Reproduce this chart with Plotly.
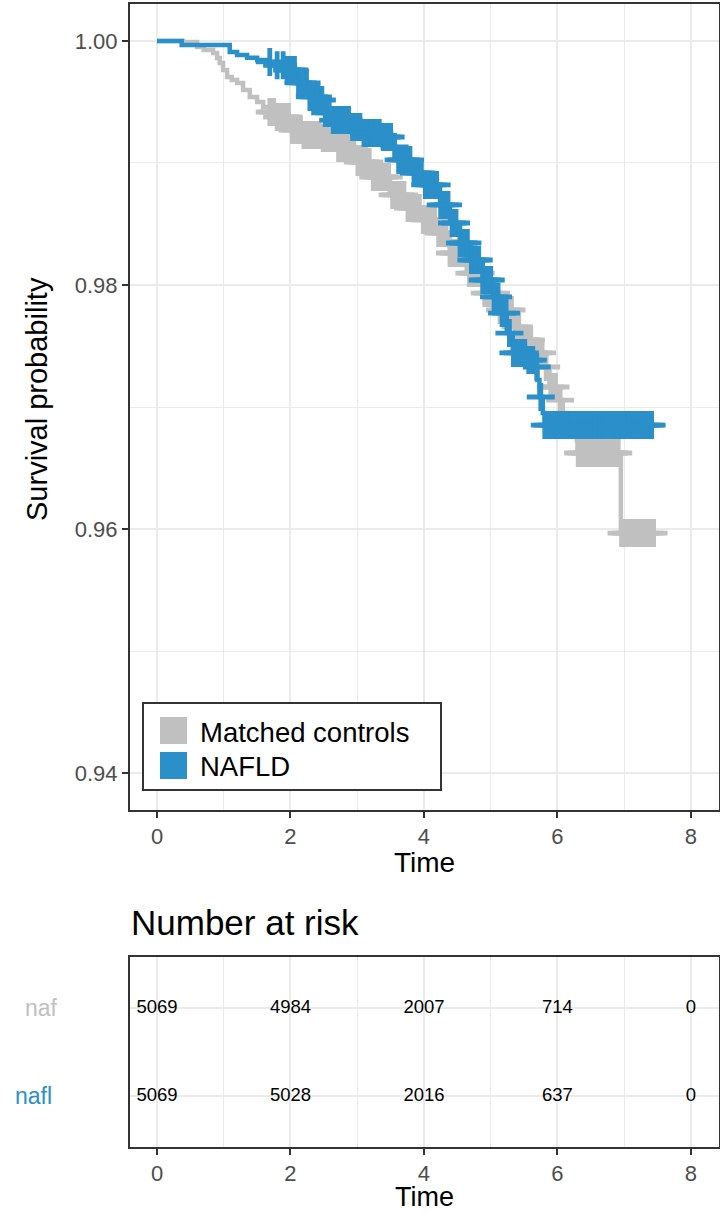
import numpy as np
import plotly.graph_objects as go

# ---------------- data ----------------
ctrl_time = [0.0, 0.39, 0.60, 0.70, 0.84, 0.90, 0.94, 0.99, 1.05, 1.12, 1.20, 1.29, 1.39, 1.50,
             1.59, 1.69, 1.80, 1.99, 2.19, 2.49, 2.69, 2.99, 3.23, 3.49, 3.74, 3.98, 4.19, 4.39,
             4.64, 4.88, 5.13, 5.33, 5.48, 5.63, 5.78, 5.88, 5.99, 6.08, 6.14, 6.29, 6.30, 6.95,
             7.44]
ctrl_surv = [1.0, 0.99992, 0.99951, 0.99926, 0.99902, 0.99861, 0.99820, 0.99762, 0.99705, 0.99680,
             0.99656, 0.99598, 0.99541, 0.99500, 0.99459, 0.99418, 0.99377, 0.99270, 0.99229,
             0.99205, 0.99123, 0.99008, 0.98885, 0.98738, 0.98631, 0.98533, 0.98426, 0.98262,
             0.98098, 0.97934, 0.97795, 0.97656, 0.97549, 0.97443, 0.97328, 0.97164, 0.97057,
             0.96951, 0.96811, 0.96729, 0.96623, 0.95967, 0.95967]

nafld_time = [0.0, 0.34, 0.37, 0.99, 1.09, 1.20, 1.35, 1.50, 1.69, 1.80, 1.95, 2.10, 2.29, 2.44,
              2.49, 2.59, 2.89, 3.08, 3.34, 3.53, 3.59, 3.83, 3.98, 4.24, 4.39, 4.54, 4.69, 4.88,
              5.03, 5.13, 5.24, 5.33, 5.54, 5.69, 5.70, 5.73, 5.78, 5.81, 7.41]
nafld_surv = [1.0, 1.0, 0.99967, 0.99967, 0.99910, 0.99885, 0.99862, 0.99844, 0.99828, 0.99800,
              0.99762, 0.99656, 0.99541, 0.99516, 0.99410, 0.99352, 0.99295, 0.99246, 0.99213,
              0.99131, 0.99025, 0.98918, 0.98820, 0.98656, 0.98508, 0.98344, 0.98205, 0.98041,
              0.97902, 0.97770, 0.97606, 0.97443, 0.97385, 0.97328, 0.97221, 0.97082, 0.96951,
              0.96852, 0.96852]

ctrl_censor = [1.69, 1.75, 1.80, 1.86, 1.92, 1.97, 2.03, 2.09, 2.15, 2.20, 2.26, 2.32, 2.38, 2.43,
               2.49, 2.55, 2.61, 2.66, 2.72, 2.78, 2.84, 2.89, 2.95, 3.01, 3.07, 3.12, 3.18, 3.24,
               3.30, 3.35, 3.41, 3.47, 3.53, 3.58, 3.64, 3.70, 3.76, 3.81, 3.87, 3.93, 3.99, 4.04,
               4.10, 4.16, 4.22, 4.27, 4.33, 4.39, 4.45, 4.50, 4.56, 4.62, 4.68, 4.73, 4.79, 4.85,
               4.91, 4.96, 5.02, 5.08, 5.14, 5.19, 5.25, 5.31, 5.37, 5.42, 5.48, 5.54, 5.60, 5.65,
               5.71, 5.77, 5.83, 5.90, 5.97, 6.04, 6.31, 6.37, 6.43, 6.49, 6.55, 6.61, 6.67, 6.73,
               6.79, 6.85, 6.91, 6.96, 7.02, 7.08, 7.14, 7.20, 7.26, 7.32, 7.38, 7.44]
nafld_censor = [1.69, 1.80, 1.89, 1.95, 2.01, 2.06, 2.12, 2.18, 2.24, 2.29, 2.35, 2.41, 2.47, 2.52,
                2.58, 2.64, 2.70, 2.75, 2.81, 2.87, 2.93, 2.98, 3.04, 3.10, 3.16, 3.21, 3.27, 3.33,
                3.39, 3.44, 3.50, 3.56, 3.62, 3.67, 3.73, 3.79, 3.85, 3.90, 3.96, 4.02, 4.08, 4.13,
                4.19, 4.25, 4.31, 4.36, 4.42, 4.48, 4.54, 4.59, 4.65, 4.71, 4.77, 4.82, 4.88, 4.94,
                5.00, 5.05, 5.11, 5.17, 5.23, 5.28, 5.34, 5.40, 5.46, 5.51, 5.57, 5.63, 5.69, 5.75,
                5.81, 5.86, 5.92, 5.98, 6.04, 6.10, 6.16, 6.21, 6.27, 6.33, 6.39, 6.45, 6.51, 6.56,
                6.62, 6.68, 6.74, 6.80, 6.86, 6.91, 6.97, 7.03, 7.09, 7.15, 7.21, 7.26, 7.32, 7.38,
                7.41]

risk_time = [0, 2, 4, 6, 8]
risk_ctrl = [5069, 4984, 2007, 714, 0]
risk_nafld = [5069, 5028, 2016, 637, 0]

group_names = ["Matched controls", "NAFLD"]
strata_labels = ["naf", "nafl"]

GRAY = "#C0C0C0"
BLUE = "#2B8FC9"
FONT = "Liberation Sans"
W, H = 720, 1213


def px_x(p):
    return p / W


def px_y(p):
    return 1 - p / H


def surv_at(times, survs, t):
    times = np.asarray(times)
    survs = np.asarray(survs)
    idx = np.searchsorted(times, t, side="right") - 1
    return survs[idx]


fig = go.Figure()

for tm, sv, cen, col, name in [(ctrl_time, ctrl_surv, ctrl_censor, GRAY, group_names[0]),
                               (nafld_time, nafld_surv, nafld_censor, BLUE, group_names[1])]:
    fig.add_trace(go.Scatter(x=tm, y=sv, mode="lines", line=dict(color=col, width=4.5, shape="hv"),
                             name=name, showlegend=False, xaxis="x", yaxis="y"))
    fig.add_trace(go.Scatter(x=cen, y=surv_at(tm, sv, cen), mode="markers",
                             marker=dict(symbol="cross-thin", size=20, color=col,
                                         line=dict(color=col, width=4.8)),
                             showlegend=False, xaxis="x", yaxis="y"))

# risk table text
for row, vals in [(1, risk_ctrl), (0, risk_nafld)]:
    fig.add_trace(go.Scatter(x=risk_time, y=[row] * len(risk_time), mode="text",
                             text=[str(v) for v in vals],
                             textfont=dict(family=FONT, size=18.5, color="black"),
                             showlegend=False, xaxis="x2", yaxis="y2"))

grid = "#EBEBEB"
border = "#333333"
tickfont = dict(family=FONT, size=22, color="#4D4D4D")

xcommon = dict(range=[-0.4045, 8.42], tickvals=[0, 2, 4, 6, 8], showgrid=True, gridcolor=grid,
               gridwidth=2.2, zeroline=False, showline=True, linecolor=border, linewidth=2,
               mirror=True, ticks="outside", ticklen=6, tickwidth=2, tickcolor=border,
               tickfont=tickfont,
               minor=dict(tickvals=[1, 3, 5, 7], showgrid=True, gridcolor=grid, gridwidth=1.2,
                          ticks=""))

fig.update_layout(
    width=W, height=H, margin=dict(l=0, r=0, t=0, b=0),
    paper_bgcolor="white", plot_bgcolor="white", showlegend=False,
    xaxis=dict(domain=[px_x(130), px_x(719)], anchor="y", **xcommon),
    yaxis=dict(domain=[px_y(810), px_y(4)], anchor="x", range=[0.93697, 1.00303],
               tickvals=[0.94, 0.96, 0.98, 1.00], tickformat=".2f", showgrid=True,
               gridcolor=grid, gridwidth=2.2, zeroline=False, showline=True, linecolor=border,
               linewidth=2, mirror=True, ticks="outside", ticklen=6, tickwidth=2,
               tickcolor=border, tickfont=tickfont,
               minor=dict(tickvals=[0.95, 0.97, 0.99], showgrid=True, gridcolor=grid,
                          gridwidth=1.2, ticks="")),
    xaxis2=dict(domain=[px_x(130), px_x(719)], anchor="y2", **xcommon),
    yaxis2=dict(domain=[px_y(1147), px_y(957)], anchor="x2", range=[-0.58, 1.58],
                tickvals=[0, 1], showticklabels=False, showgrid=True, gridcolor=grid,
                gridwidth=2.2, zeroline=False, showline=True, linecolor=border, linewidth=2,
                mirror=True, ticks=""),
)

ann = []
ann.append(dict(text="Survival probability", x=px_x(37), y=px_y(399), xref="paper", yref="paper",
                textangle=-90, showarrow=False, xanchor="center", yanchor="middle",
                font=dict(family=FONT, size=29, color="black")))
ann.append(dict(text="Time", x=px_x(424), y=px_y(862), xref="paper", yref="paper",
                showarrow=False, xanchor="center", yanchor="middle",
                font=dict(family=FONT, size=28, color="black")))
ann.append(dict(text="Time", x=px_x(424), y=px_y(1197), xref="paper", yref="paper",
                showarrow=False, xanchor="center", yanchor="middle",
                font=dict(family=FONT, size=27, color="black")))
ann.append(dict(text="Number at risk", x=px_x(129), y=px_y(922), xref="paper", yref="paper",
                showarrow=False, xanchor="left", yanchor="middle",
                font=dict(family=FONT, size=35, color="black")))
ann.append(dict(text=strata_labels[0], x=px_x(23), y=px_y(1008), xref="paper", yref="paper",
                showarrow=False, xanchor="left", yanchor="middle",
                font=dict(family=FONT, size=23, color=GRAY)))
ann.append(dict(text=strata_labels[1], x=px_x(13), y=px_y(1096), xref="paper", yref="paper",
                showarrow=False, xanchor="left", yanchor="middle",
                font=dict(family=FONT, size=23, color=BLUE)))
ann.append(dict(text=group_names[0], x=px_x(198), y=px_y(732), xref="paper", yref="paper",
                showarrow=False, xanchor="left", yanchor="middle",
                font=dict(family=FONT, size=27.5, color="black")))
ann.append(dict(text=group_names[1], x=px_x(198), y=px_y(766), xref="paper", yref="paper",
                showarrow=False, xanchor="left", yanchor="middle",
                font=dict(family=FONT, size=27.5, color="black")))

shapes = [
    dict(type="rect", xref="paper", yref="paper", x0=px_x(143), x1=px_x(441), y0=px_y(790),
         y1=px_y(703), line=dict(color=border, width=2), fillcolor="white", layer="above"),
    dict(type="rect", xref="paper", yref="paper", x0=px_x(160), x1=px_x(187), y0=px_y(744),
         y1=px_y(717), line=dict(width=0), fillcolor=GRAY, layer="above"),
    dict(type="rect", xref="paper", yref="paper", x0=px_x(160), x1=px_x(187), y0=px_y(779),
         y1=px_y(752), line=dict(width=0), fillcolor=BLUE, layer="above"),
]

fig.update_layout(annotations=ann, shapes=shapes)
fig.write_html("out.html", config={"displayModeBar": False},
               post_script="document.body.style.margin='0px';")
